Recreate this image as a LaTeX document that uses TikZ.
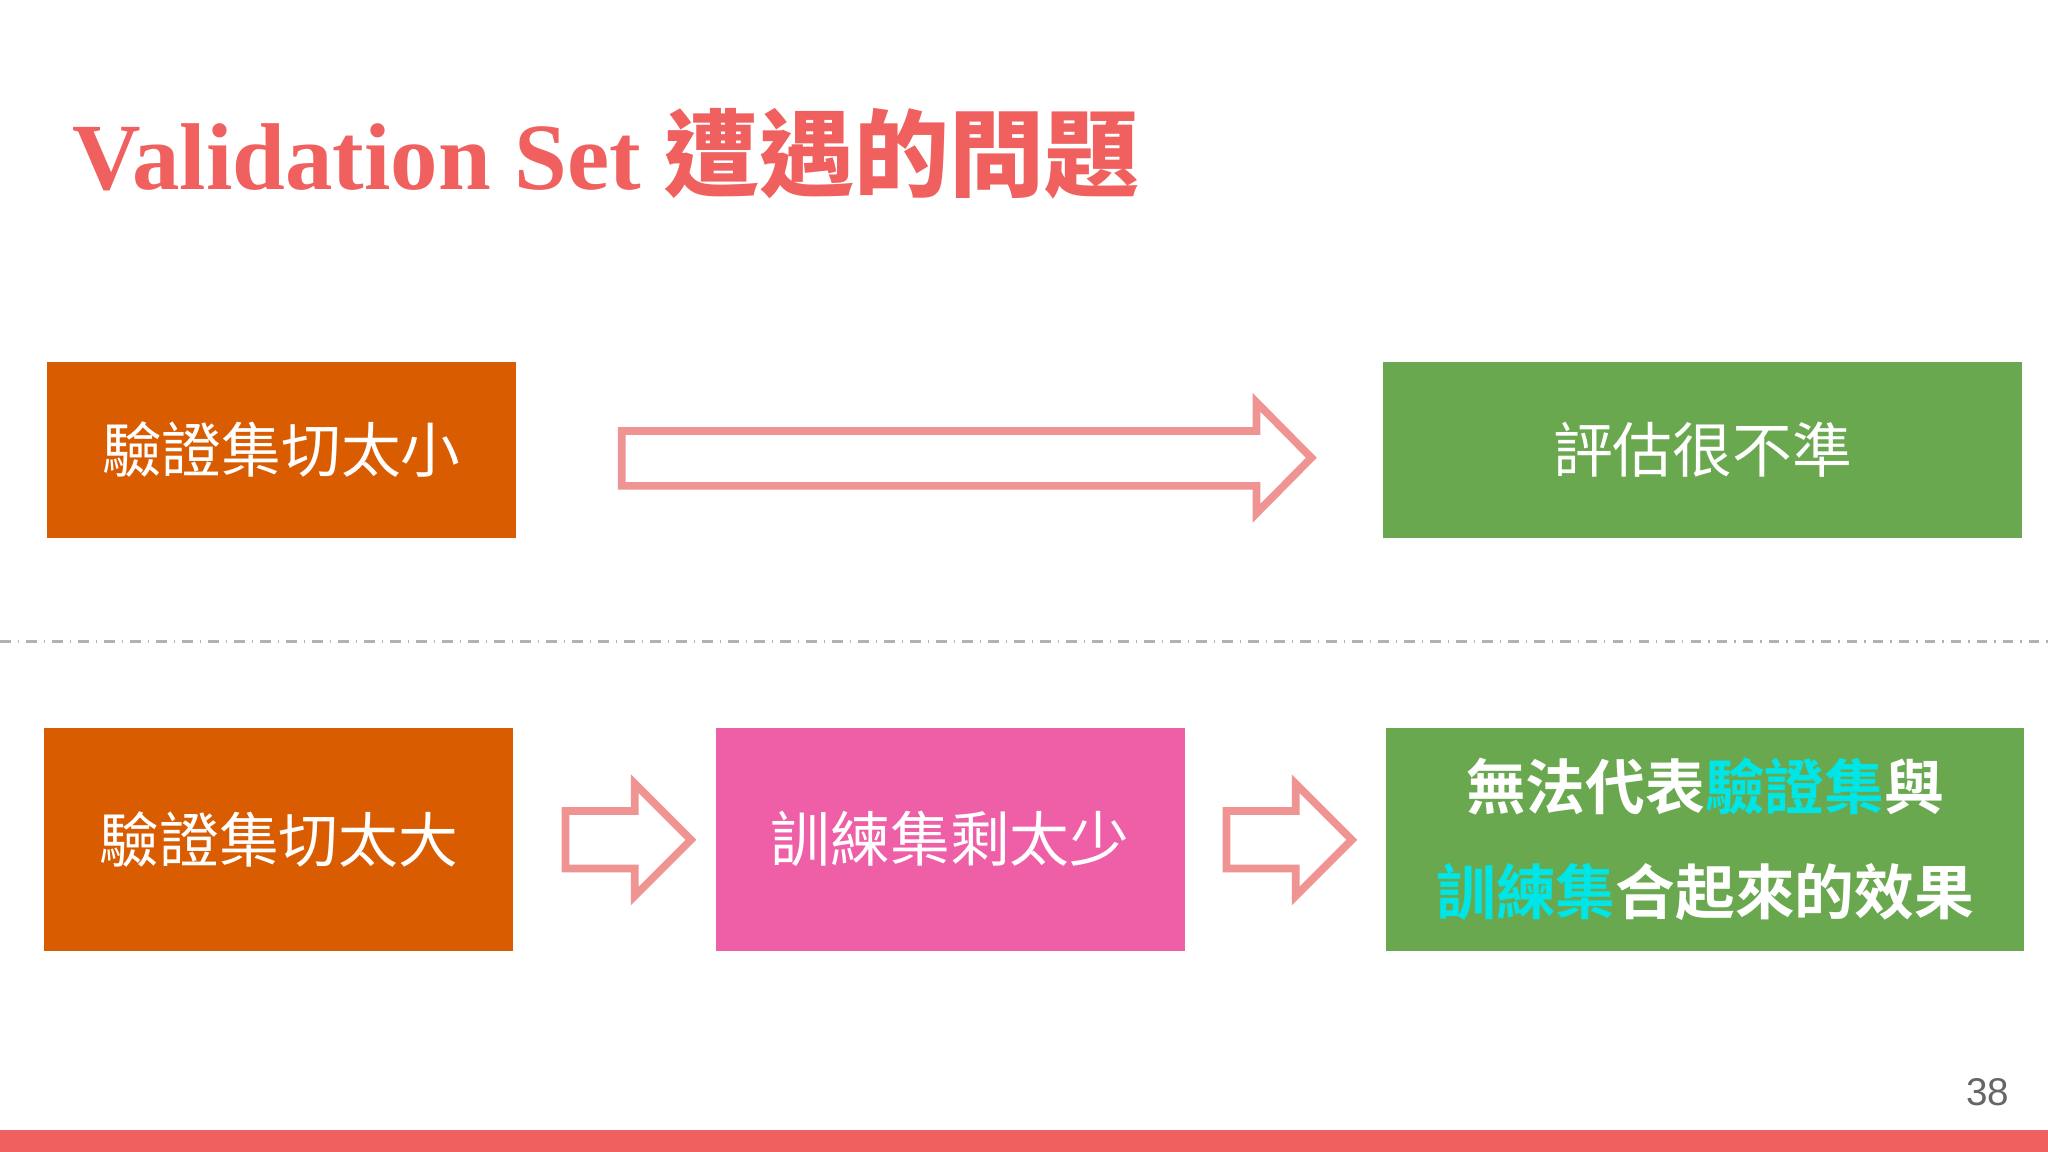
\documentclass[tikz,border=0pt]{standalone}
\usepackage{fontspec}
\newfontfamily\cjk{Noto Sans CJK TC}
\newfontfamily\cjkb{Noto Sans CJK TC Bold}
\setmainfont{Liberation Serif}
\setsansfont{Liberation Sans}
\definecolor{titler}{HTML}{F0605F}
\definecolor{orng}{HTML}{D95C00}
\definecolor{grn}{HTML}{6AA84F}
\definecolor{pnk}{HTML}{EE5FA7}
\definecolor{arr}{HTML}{F09393}
\definecolor{cyn}{HTML}{00E5E5}
\begin{document}
\begin{tikzpicture}[x=0.013061cm,y=-0.013061cm,
  boxs/.style={inner sep=0pt,text=white,font=\cjk\fontsize{17}{20}\selectfont,align=center},
  arrs/.style={draw=arr,line width=2.2pt,fill=white,line join=miter}]
\useasboundingbox (0,0) rectangle (1568,882);
\fill[white] (0,0) rectangle (1568,882);
\node[anchor=base west,text=titler,inner sep=0pt] (title) at (55,145)
  {\fontsize{27}{30}\selectfont\bfseries Validation Set {\cjkb 遭遇的問題}};
% row 1
\fill[orng] (36,277) rectangle (395,412);
\node[boxs] (b1) at (215.5,344.5) {驗證集切太小};
\fill[grn] (1059,277) rectangle (1548,412);
\node[boxs] (b2) at (1303.5,344.5) {評估很不準};
\draw[arrs] (476,330) -- (962,330) -- (962,308) -- (1004,350.5) -- (962,393) -- (962,372) -- (476,372) -- cycle;
% divider
\draw[gray!60,dash dot,line width=0.8pt] (0,491) -- (1568,491);
% row 2
\fill[orng] (34,557) rectangle (393,728);
\node[boxs] (b3) at (213.5,642.5) {驗證集切太大};
\fill[pnk] (548,557) rectangle (907,728);
\node[boxs] (b4) at (727.5,642.5) {訓練集剩太少};
\fill[grn] (1061,557) rectangle (1550,728);
\node[boxs,font=\cjkb\fontsize{17}{30}\selectfont] (b5) at (1305.5,642.5)
  {無法代表\textcolor{cyn}{驗證集}與\\\textcolor{cyn}{訓練集}合起來的效果};
\draw[arrs] (433,621) -- (486,621) -- (486,600) -- (529,643) -- (486,686) -- (486,665) -- (433,665) -- cycle;
\draw[arrs] (939,621) -- (992,621) -- (992,600) -- (1035,643) -- (992,686) -- (992,665) -- (939,665) -- cycle;
% footer
\node[text=gray!80!black,font=\sffamily\fontsize{11}{12}\selectfont] (pg) at (1522,836) {38};
\fill[titler] (0,865) rectangle (1568,882);
\end{tikzpicture}
\end{document}
